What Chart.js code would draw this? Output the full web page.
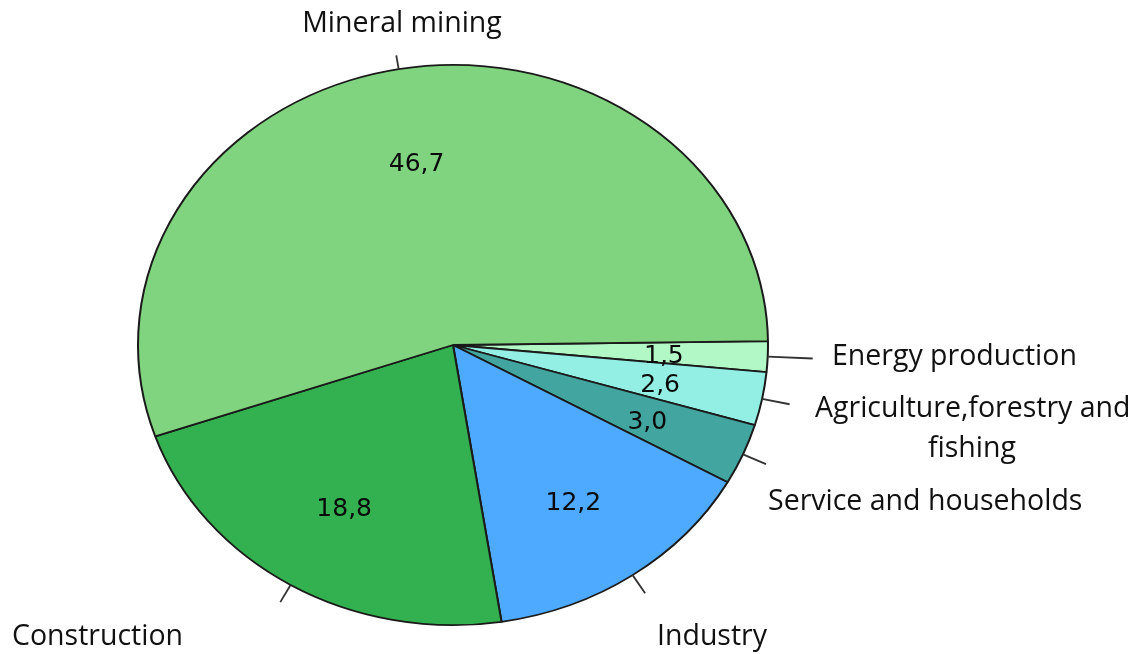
<!DOCTYPE html>
<html>
<head>
<meta charset="utf-8">
<script src="https://cdn.jsdelivr.net/npm/chart.js@4/dist/chart.umd.min.js"></script>
<style>
  html, body { margin: 0; padding: 0; background: #fff; }
  #wrap { width: 1136px; height: 654px; }
</style>
</head>
<body>
<div id="wrap"><canvas id="pie" width="1136" height="654"></canvas></div>
<script>
// slices in drawing order (clockwise, starting just above 3 o'clock)
const categories = ['Energy production', 'Agriculture,forestry and fishing', 'Service and households', 'Industry', 'Construction', 'Mineral mining'];
const shares = [1.5, 2.6, 3.0, 12.2, 18.8, 46.7];
const sliceColors = ['#b2f7c6', '#93efe4', '#43a5a0', '#4eaaff', '#33b04f', '#80d37f'];

// the original pie is a slightly squashed ellipse
const SQUASH = 281 / 316;
const CENTER_Y = 345;

// outside captions: lines, anchor, alignment and leader tick length
const captions = [
  { lines: ['Energy production'], x: 832, y: 365, align: 'left', tick: 45 },
  { lines: ['Agriculture,forestry and', 'fishing'], x: 815, y: 417, align: 'left', tick: 28, second: { x: 972, align: 'center' } },
  { lines: ['Service and households'], x: 768, y: 510, align: 'left', tick: 25 },
  { lines: ['Industry'], x: 657, y: 645, align: 'left', tick: 22 },
  { lines: ['Construction'], x: 12, y: 645, align: 'left', tick: 20 },
  { lines: ['Mineral mining'], x: 402, y: 32, align: 'center', tick: 14 }
];

const squashPie = {
  id: 'squashPie',
  beforeDatasetsDraw(chart) {
    const arc = chart.getDatasetMeta(0).data[0];
    const ctx = chart.ctx;
    ctx.save();
    ctx.translate(0, CENTER_Y);
    ctx.scale(1, SQUASH);
    ctx.translate(0, -arc.y);
  },
  afterDatasetsDraw(chart) {
    chart.ctx.restore();
  }
};

const pieText = {
  id: 'pieText',
  afterDraw(chart) {
    const ctx = chart.ctx;
    const meta = chart.getDatasetMeta(0);
    meta.data.forEach((arc, i) => {
      const mid = (arc.startAngle + arc.endAngle) / 2;
      const R = arc.outerRadius;
      const cx = arc.x;
      const cos = Math.cos(mid), sin = Math.sin(mid);

      // value inside the slice
      ctx.save();
      ctx.font = '25px "DejaVu Sans"';
      ctx.fillStyle = '#0a0a0a';
      ctx.textAlign = 'center';
      ctx.textBaseline = 'middle';
      const txt = shares[i].toFixed(1).replace('.', ',');
      ctx.fillText(txt, cx + R * 0.67 * cos, CENTER_Y + 4 + R * 0.67 * SQUASH * sin);
      ctx.restore();

      // leader tick
      const c = captions[i];
      const ex = cx + R * cos, ey = CENTER_Y + R * SQUASH * sin;
      ctx.save();
      ctx.strokeStyle = '#333';
      ctx.lineWidth = 1.8;
      ctx.beginPath();
      ctx.moveTo(ex, ey);
      ctx.lineTo(ex + c.tick * cos, ey + c.tick * sin);
      ctx.stroke();
      ctx.restore();

      // caption
      ctx.save();
      ctx.font = '28.5px "Open Sans"';
      ctx.fillStyle = '#111';
      ctx.textBaseline = 'alphabetic';
      ctx.textAlign = c.align;
      ctx.fillText(c.lines[0], c.x, c.y);
      if (c.lines[1]) {
        ctx.textAlign = c.second.align;
        ctx.fillText(c.lines[1], c.second.x, c.y + 40);
      }
      ctx.restore();
    });
  }
};

new Chart(document.getElementById('pie'), {
  type: 'pie',
  data: {
    labels: categories,
    datasets: [{
      data: shares,
      backgroundColor: sliceColors,
      borderColor: '#1a1a1a',
      borderWidth: 2,
      hoverOffset: 0
    }]
  },
  options: {
    responsive: false,
    animation: false,
    devicePixelRatio: 1,
    rotation: 89.2,
    layout: { padding: { left: 137, right: 367, top: 0, bottom: 0 } },
    plugins: {
      legend: { display: false },
      tooltip: { enabled: false }
    }
  },
  plugins: [squashPie, pieText]
});
</script>
</body>
</html>
